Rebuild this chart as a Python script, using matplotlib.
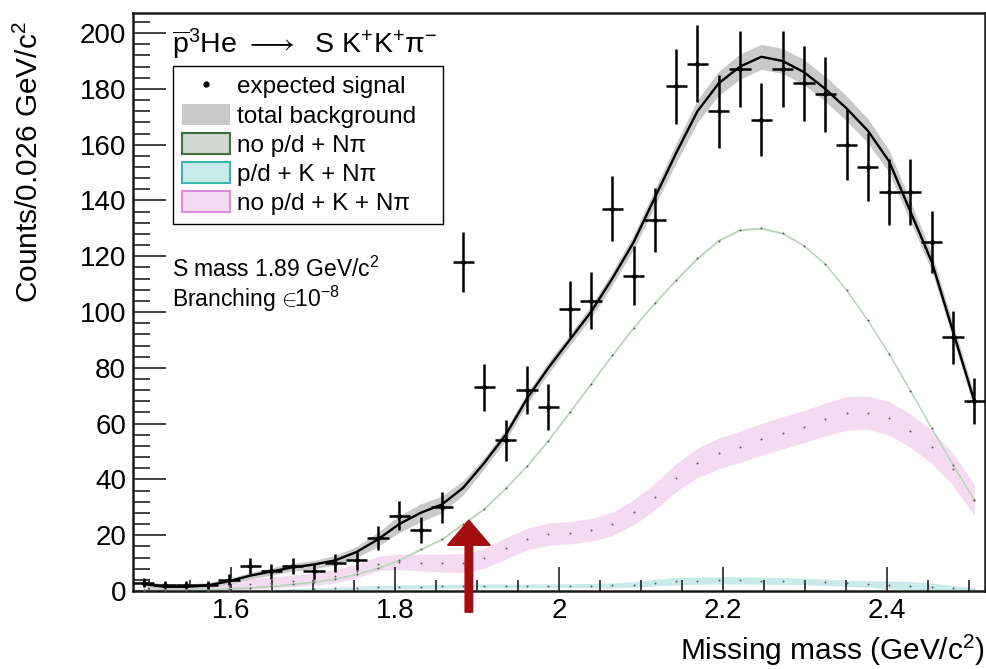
import numpy as np
import matplotlib
matplotlib.use("Agg")
import matplotlib.pyplot as plt
from matplotlib.patches import Patch
from matplotlib.lines import Line2D
from matplotlib.ticker import MultipleLocator

plt.rcParams['font.family'] = ['Liberation Sans', 'DejaVu Sans']
plt.rcParams['mathtext.fontset'] = 'custom'
plt.rcParams['mathtext.rm'] = 'Liberation Sans'
plt.rcParams['mathtext.it'] = 'Liberation Sans:italic'
plt.rcParams['mathtext.bf'] = 'Liberation Sans:bold'

# Missing-mass histogram: 40 bins of 0.026 GeV/c^2 from 1.48 to 2.52
bin_lo = 1.48
bin_width = 0.026
n_bins = 40
mass = bin_lo + bin_width * (np.arange(n_bins) + 0.5)

counts = [3, 2, 2, 2, 4, 9, 7, 9, 7, 10,
          11, 19, 27, 22, 30, 118, 73, 54, 72, 66,
          101, 104, 137, 113, 133, 181, 189, 172, 187, 169,
          187, 182, 178, 160, 152, 143, 143, 125, 91, 68]

total_bkg = [2.5, 1.5, 1.5, 2.0, 3.5, 5.5, 7.0, 8.5, 9.5, 11.0,
             14.0, 18.5, 24.0, 28.0, 31.0, 37.0, 46.0, 56.0, 69.0, 80.0,
             90.0, 100.0, 112.0, 125.0, 141.0, 157.0, 172.0, 182.0, 188.0, 191.5,
             190.0, 186.0, 180.0, 173.0, 165.0, 154.0, 136.0, 118.0, 93.0, 68.0]
total_bkg_err = [1.0, 1.0, 1.0, 1.0, 1.0, 1.2, 1.3, 1.4, 1.5, 1.7,
                 2.0, 2.5, 3.0, 3.2, 3.0, 2.5, 2.0, 2.0, 2.0, 2.0,
                 2.0, 2.2, 2.4, 2.6, 3.0, 3.5, 4.0, 4.3, 4.5, 4.5,
                 4.5, 4.5, 4.5, 4.5, 4.3, 4.0, 3.6, 3.2, 2.8, 2.5]

# no p/d + N pi
bkg_npi = [0.3, 0.3, 0.4, 0.5, 0.8, 1.2, 1.7, 2.4, 3.2, 4.3,
           6.0, 8.2, 11.0, 14.9, 18.5, 24.0, 29.5, 36.8, 44.8, 53.9,
           64.0, 74.2, 84.5, 94.3, 103.2, 111.5, 119.2, 125.6, 129.4, 130.0,
           128.2, 123.8, 117.2, 107.9, 97.0, 85.0, 71.8, 58.3, 45.2, 32.6]
bkg_npi_err = [0.3] * 40

# p/d + K + N pi
bkg_pd_k = [0.0, 0.0, 0.0, 0.0, 0.1, 0.2, 0.3, 0.5, 0.7, 0.9,
            1.1, 1.3, 1.5, 1.6, 1.7, 1.8, 1.8, 1.8, 1.8, 1.9,
            1.9, 1.9, 2.0, 2.3, 3.0, 3.5, 3.7, 3.8, 3.8, 3.7,
            3.6, 3.4, 3.1, 2.8, 2.5, 2.2, 1.9, 1.5, 1.0, 0.5]
bkg_pd_k_err = [0.0, 0.0, 0.0, 0.0, 0.1, 0.2, 0.3, 0.4, 0.5, 0.5,
                0.6, 0.6, 0.7, 0.7, 0.7, 0.7, 0.7, 0.7, 0.7, 0.7,
                0.7, 0.8, 0.9, 1.0, 1.2, 1.3, 1.3, 1.3, 1.3, 1.3,
                1.2, 1.2, 1.1, 1.1, 1.2, 1.4, 1.5, 1.3, 1.0, 0.6]

# no p/d + K + N pi
bkg_k = [0.5, 0.7, 0.9, 1.2, 1.8, 2.5, 3.0, 3.6, 4.3, 5.3,
         7.2, 9.8, 10.5, 10.2, 10.0, 10.0, 11.7, 15.3, 18.6, 20.4,
         20.9, 21.9, 24.0, 28.2, 33.8, 40.6, 46.0, 49.3, 51.7, 54.4,
         56.7, 58.9, 61.5, 63.7, 63.9, 61.9, 57.5, 51.7, 43.6, 32.6]
bkg_k_err = [0.6, 0.8, 1.0, 1.2, 1.5, 1.8, 2.0, 2.1, 2.2, 2.4,
             2.5, 2.6, 2.8, 3.0, 3.2, 3.4, 3.6, 3.8, 3.9, 4.0,
             4.0, 4.1, 4.2, 4.5, 4.8, 5.0, 5.3, 5.5, 5.6, 5.7,
             5.8, 5.8, 5.9, 6.0, 6.0, 6.0, 6.0, 6.0, 5.8, 5.5]

s_mass = 1.89

counts = np.array(counts, dtype=float)
total_bkg = np.array(total_bkg)
total_bkg_err = np.array(total_bkg_err)
bkg_npi = np.array(bkg_npi)
bkg_npi_err = np.array(bkg_npi_err)
bkg_pd_k = np.array(bkg_pd_k)
bkg_pd_k_err = np.array(bkg_pd_k_err)
bkg_k = np.array(bkg_k)
bkg_k_err = np.array(bkg_k_err)

col_gray = '#c9c9c9'
col_green_fill = '#cfd9cf'
col_green_edge = '#3f6f3f'
col_green_line = '#b6d1b6'
col_cyan_fill = '#c9eaea'
col_cyan_edge = '#3fb2b2'
col_pink_fill = '#f5dbf2'
col_pink_edge = '#e08ade'
col_dots = '#555555'

fig = plt.figure(figsize=(9.87, 6.69), dpi=100)
ax = fig.add_axes([133 / 987, 1 - 591 / 669, (985 - 133) / 987, (591 - 13) / 669])

# component bands
ax.fill_between(mass, bkg_k - bkg_k_err, bkg_k + bkg_k_err, color=col_pink_fill, lw=0, zorder=1)
ax.fill_between(mass, np.clip(bkg_pd_k - bkg_pd_k_err, 0, None), bkg_pd_k + bkg_pd_k_err,
                color=col_cyan_fill, lw=0, zorder=1)
ax.fill_between(mass, bkg_npi - bkg_npi_err, bkg_npi + bkg_npi_err, color=col_green_fill, lw=0, zorder=1)
ax.plot(mass, bkg_npi, color=col_green_line, lw=0.9, zorder=2)
for comp in (bkg_npi, bkg_pd_k, bkg_k):
    ax.plot(mass, comp, ls='none', marker='o', ms=1.4, mec='none', mfc=col_dots, zorder=3)

# total background
ax.fill_between(mass, total_bkg - total_bkg_err, total_bkg + total_bkg_err,
                color=col_gray, lw=0, zorder=4)
ax.plot(mass, total_bkg, color='black', lw=1.7, zorder=5, solid_joinstyle='round')

# data
ax.errorbar(mass, counts, xerr=bin_width / 2, yerr=np.sqrt(counts), fmt='o', ms=2.5,
            color='black', elinewidth=1.8, capsize=0, zorder=6)

# arrow marking the S mass hypothesis
ax.arrow(s_mass, -7.6, 0, 24.0, width=0.0092, head_width=0.052, head_length=9.0,
         length_includes_head=False, color='#a30d0d', clip_on=False, zorder=7)

ax.set_xlim(1.48, 2.52)
ax.set_ylim(0, 207.2)

ax.xaxis.set_major_locator(MultipleLocator(0.2))
ax.xaxis.set_minor_locator(MultipleLocator(0.05))
ax.yaxis.set_major_locator(MultipleLocator(20))
ax.yaxis.set_minor_locator(MultipleLocator(4))
ax.set_xticks([1.6, 1.8, 2.0, 2.2, 2.4])
ax.set_xticklabels(['1.6', '1.8', '2', '2.2', '2.4'])

ax.tick_params(axis='both', which='both', direction='in', top=False, right=False, width=1.2,
               color='#222222')
ax.tick_params(axis='y', which='major', length=24, labelsize=20, pad=5)
ax.tick_params(axis='y', which='minor', length=12)
ax.tick_params(axis='x', which='major', length=17, labelsize=20, pad=5)
ax.tick_params(axis='x', which='minor', length=8)
for sp in ax.spines.values():
    sp.set_linewidth(1.8)
    sp.set_color('#1a1a1a')

ax.set_ylabel(r'Counts/0.026 GeV/c$^{2}$', fontsize=21.5, loc='top')
ax.yaxis.set_label_coords(-0.105, 0.985)
ax.set_xlabel(r'Missing mass (GeV/c$^{2}$)', fontsize=21.5, loc='right')
ax.xaxis.set_label_coords(1.0, -0.072)

ax.text(0.0457, 0.9308,
        r'$\overline{\mathrm{p}}^{3}\mathrm{He}\ \longrightarrow\ \ \mathrm{S\ K^{+}K^{+}\pi^{-}}$',
        transform=ax.transAxes, fontsize=20.5, va='baseline', ha='left')
ax.text(0.0457, 0.5433, r'S mass 1.89 GeV/c$^{2}$', transform=ax.transAxes,
        fontsize=16.5, va='baseline', ha='left')
ax.text(0.0457, 0.4913, r'Branching $\!\in\!\!$10$^{-8}$', transform=ax.transAxes,
        fontsize=16.5, va='baseline', ha='left')

handles = [
    Line2D([], [], ls='none', marker='o', ms=3.5, color='black'),
    Patch(facecolor=col_gray, edgecolor='none'),
    Patch(facecolor=col_green_fill, edgecolor=col_green_edge, lw=1.5),
    Patch(facecolor=col_cyan_fill, edgecolor=col_cyan_edge, lw=1.5),
    Patch(facecolor=col_pink_fill, edgecolor=col_pink_edge, lw=1.5),
]
labels = ['expected signal', 'total background', 'no p/d + Nπ', 'p/d + K + Nπ', 'no p/d + K + Nπ']
x0 = (173 - 133) / 852
y0 = (591 - 66) / 578
leg = ax.legend(handles, labels, loc='upper left', mode='expand',
                bbox_to_anchor=(x0, y0 - 0.3, (443 - 173) / 852, 0.3),
                fontsize=17.5, frameon=True, fancybox=False, framealpha=1,
                edgecolor='black', handlelength=2.0, handleheight=0.95,
                handletextpad=0.3, labelspacing=0.22, borderpad=0.35, borderaxespad=0)
leg.get_frame().set_linewidth(1.0)
leg.set_zorder(10)

fig.savefig('out.png', dpi=100)
